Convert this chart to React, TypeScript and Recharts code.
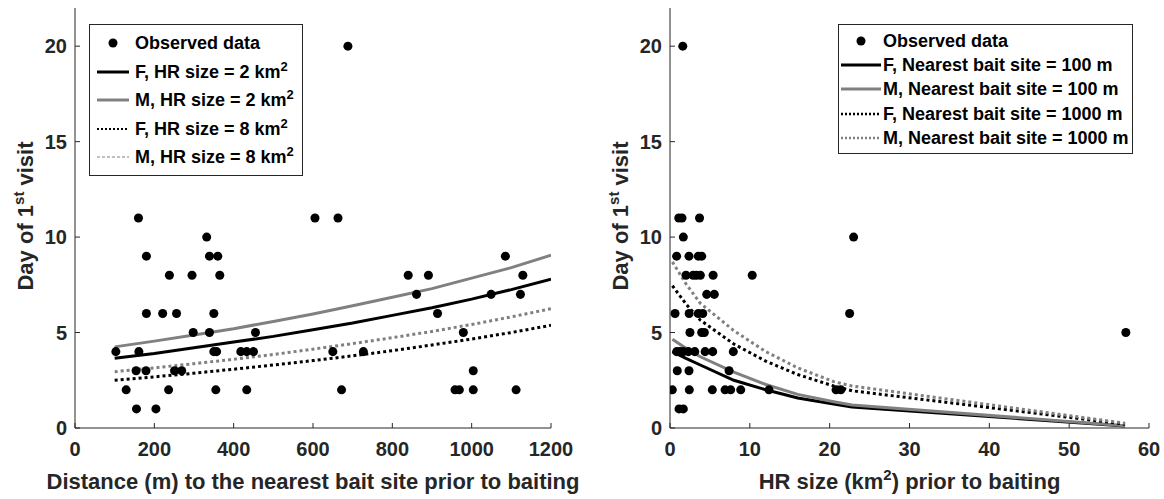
import React from 'react';
import { ComposedChart, Scatter, Line, XAxis, YAxis, Legend, Label } from 'recharts';

const FONT = '"Liberation Sans", Arial, Helvetica, sans-serif';
const INK = '#262626';
const GREY = '#808080';

// ---- left panel: distance to nearest bait site ----
const DIST_M = [
  688,
  160, 605, 663,
  332,
  180, 339, 360, 1085,
  238, 295, 365, 840, 891, 1129,
  861, 1049, 1123,
  180, 221, 256, 350, 914,
  298, 339, 455, 979,
  103, 161, 350, 357, 418, 433, 450, 650, 727,
  154, 179, 251, 269, 1004,
  129, 236, 355, 433, 672, 958, 969, 1004, 1112,
  155, 204,
];
const DIST_DAY = [
  20,
  11, 11, 11,
  10,
  9, 9, 9, 9,
  8, 8, 8, 8, 8, 8,
  7, 7, 7,
  6, 6, 6, 6, 6,
  5, 5, 5, 5,
  4, 4, 4, 4, 4, 4, 4, 4, 4,
  3, 3, 3, 3, 3,
  2, 2, 2, 2, 2, 2, 2, 2, 2,
  1, 1,
];
const DIST_GRID = [100, 200, 300, 400, 500, 600, 700, 800, 900, 1000, 1100, 1200];
const F_HR2 = [3.65, 3.9, 4.2, 4.5, 4.8, 5.15, 5.5, 5.9, 6.3, 6.75, 7.25, 7.8];
const M_HR2 = [4.25, 4.55, 4.87, 5.2, 5.58, 5.97, 6.4, 6.85, 7.3, 7.85, 8.4, 9.05];
const F_HR8 = [2.5, 2.68, 2.87, 3.08, 3.3, 3.53, 3.78, 4.05, 4.35, 4.66, 5.0, 5.38];
const M_HR8 = [2.95, 3.15, 3.37, 3.6, 3.85, 4.13, 4.42, 4.73, 5.06, 5.42, 5.82, 6.25];
const DIST_TICKS = [0, 200, 400, 600, 800, 1000, 1200];

// ---- right panel: home range size ----
const HR_KM2 = [
  1.6,
  1.1, 1.5, 3.7,
  1.67, 23,
  0.83, 2.38, 3.55, 3.97,
  2.0, 2.9, 3.3, 3.8, 5.4, 10.3,
  4.6, 5.55,
  0.63, 2.4, 3.55, 4.1, 22.5,
  2.5, 3.97, 4.3, 57.1,
  0.84, 1.25, 1.67, 2.3, 3.1, 4.4, 5.35, 7.93,
  0.91, 2.38, 7.4,
  0.29, 2.42, 5.3, 6.9, 7.6, 8.86, 12.4, 20.8, 21.4,
  1.13, 1.67,
];
const HR_DAY = [
  20,
  11, 11, 11,
  10, 10,
  9, 9, 9, 9,
  8, 8, 8, 8, 8, 8,
  7, 7,
  6, 6, 6, 6, 6,
  5, 5, 5, 5,
  4, 4, 4, 4, 4, 4, 4, 4,
  3, 3, 3,
  2, 2, 2, 2, 2, 2, 2, 2, 2,
  1, 1,
];
const HR_GRID = [0.3, 2, 3.8, 8, 12, 16, 20.5, 22.8, 57];
const F_100 = [4.0, 3.65, 3.3, 2.5, 2.0, 1.57, 1.26, 1.1, 0.1];
const M_100 = [4.65, 4.18, 3.73, 2.93, 2.28, 1.76, 1.38, 1.2, 0.12];
const F_1000 = [7.45, 6.5, 5.65, 4.4, 3.5, 2.8, 2.2, 1.95, 0.2];
const M_1000 = [8.7, 7.55, 6.53, 5.1, 4.0, 3.15, 2.43, 2.2, 0.25];
const HR_TICKS = [0, 10, 20, 30, 40, 50, 60];

const DAY_TICKS = [0, 5, 10, 15, 20];

const LEFT_LABELS = ['Observed data', 'F, HR size = 2 km', 'M, HR size = 2 km', 'F, HR size = 8 km', 'M, HR size = 8 km'];
const LEFT_SUPS = ['', '2', '2', '2', '2'];
const RIGHT_LABELS = [
  'Observed data',
  'F, Nearest bait site = 100 m',
  'M, Nearest bait site = 100 m',
  'F, Nearest bait site = 1000 m',
  'M, Nearest bait site = 1000 m',
];

const pts = (xs: number[], ys: number[]) => xs.map((x, i) => ({ x, y: ys[i] }));

// plot styles for the four curves: F solid, M solid, F dotted, M dotted
const CURVE_STYLE = [
  { stroke: '#000', dash: undefined },
  { stroke: GREY, dash: undefined },
  { stroke: '#000', dash: '3 3' },
  { stroke: GREY, dash: '3 3' },
];

type Sample = { dot?: boolean; stroke?: string; w?: number; dash?: string };

const LEFT_SAMPLES: Sample[] = [
  { dot: true },
  { stroke: '#000', w: 3 },
  { stroke: GREY, w: 3 },
  { stroke: '#000', w: 2, dash: '2 2' },
  { stroke: GREY, w: 1, dash: '3 2' },
];
const RIGHT_SAMPLES: Sample[] = [
  { dot: true },
  { stroke: '#000', w: 3 },
  { stroke: GREY, w: 3 },
  { stroke: '#000', w: 2.5, dash: '2 2' },
  { stroke: GREY, w: 2.5, dash: '2 2' },
];

function LegendBox({ labels, sups, samples, rowH, sampleW, lead, gap, width }: {
  labels: string[]; sups?: string[]; samples: Sample[]; rowH: number; sampleW: number; lead: number; gap: number; width: number;
}) {
  return (
    <div style={{ border: `1px solid ${INK}`, background: '#fff', width, boxSizing: 'border-box', padding: '4px 0 3px 0', fontFamily: FONT, fontWeight: 'bold', fontSize: 18, color: '#000' }}>
      {labels.map((t, i) => {
        const s = samples[i];
        return (
          <div key={t} style={{ height: rowH, display: 'flex', alignItems: 'center', whiteSpace: 'nowrap' }}>
            <svg width={sampleW} height={10} style={{ marginLeft: lead, marginRight: gap, flex: 'none' }}>
              {s.dot ? (
                <circle cx={sampleW / 2} cy={5} r={4.5} fill="#000" />
              ) : (
                <line x1={0} x2={sampleW} y1={5} y2={5} stroke={s.stroke} strokeWidth={s.w} strokeDasharray={s.dash} />
              )}
            </svg>
            <span style={{ lineHeight: '18px' }}>
              {t}
              {sups && sups[i] ? <sup style={{ fontSize: 13, lineHeight: 0, verticalAlign: 7 }}>{sups[i]}</sup> : null}
            </span>
          </div>
        );
      })}
    </div>
  );
}

const tickStyle = { fill: INK, fontSize: 20, fontWeight: 'bold', fontFamily: FONT };

function DayTitle({ x }: { x: number }) {
  return (
    <text x={x} y={216} transform={`rotate(-90, ${x}, 216)`} textAnchor="middle" fill={INK}
      style={{ fontFamily: FONT, fontWeight: 'bold', fontSize: 22 }}>
      Day of 1<tspan dy={-9} fontSize={15}>st</tspan><tspan dy={9}> visit</tspan>
    </text>
  );
}

function Panel({ pointsX, pointsY, grid, curves, xDomain, xTicks, left, plotLeft, plotRight, xTitle, legend }: {
  pointsX: number[]; pointsY: number[]; grid: number[]; curves: number[][]; xDomain: [number, number]; xTicks: number[];
  left: number; plotLeft: number; plotRight: number; xTitle: React.ReactNode; legend: React.ReactNode;
}) {
  const W = 582;
  const H = 499;
  return (
    <div style={{ position: 'absolute', left, top: 0, width: W, height: H }}>
      <ComposedChart width={W} height={H} margin={{ top: 8, right: W - plotRight, bottom: 41, left: plotLeft - 60 }}>
        <XAxis type="number" dataKey="x" domain={xDomain} ticks={xTicks} allowDataOverflow
          height={30} stroke={INK} tickSize={-5} tickMargin={19} tick={tickStyle}>
          <Label content={({ viewBox }: any) => (
            <text x={viewBox.x + viewBox.width / 2} y={489} textAnchor="middle" fill={INK}
              style={{ fontFamily: FONT, fontWeight: 'bold', fontSize: 22 }}>{xTitle}</text>
          )} />
        </XAxis>
        <YAxis type="number" dataKey="y" domain={[0, 22]} ticks={DAY_TICKS} allowDataOverflow
          width={60} stroke={INK} tickSize={-5} tickMargin={13} tick={tickStyle}>
          <Label content={({ viewBox }: any) => <DayTitle x={viewBox.x + viewBox.width - 42} />} />
        </YAxis>
        <Scatter data={pts(pointsX, pointsY)} fill="#000" isAnimationActive={false} />
        {curves.map((c, i) => (
          <Line key={i} data={pts(grid, c)} dataKey="y" type="linear" stroke={CURVE_STYLE[i].stroke}
            strokeWidth={3} strokeDasharray={CURVE_STYLE[i].dash} dot={false} activeDot={false}
            isAnimationActive={false} />
        ))}
        <Legend layout="vertical" align="center" verticalAlign="middle" content={() => legend}
          wrapperStyle={{ position: 'absolute', top: 24, left: 0, width: 'auto', height: 'auto' }} />
      </ComposedChart>
    </div>
  );
}

export default function App() {
  return (
    <div style={{ position: 'absolute', left: 0, top: 0, width: 1164, height: 499, background: '#fff' }}>
      <Panel
        left={0}
        plotLeft={75}
        plotRight={551}
        pointsX={DIST_M}
        pointsY={DIST_DAY}
        grid={DIST_GRID}
        curves={[F_HR2, M_HR2, F_HR8, M_HR8]}
        xDomain={[0, 1200]}
        xTicks={DIST_TICKS}
        xTitle="Distance (m) to the nearest bait site prior to baiting"
        legend={
          <div style={{ marginLeft: 89 }}>
            <LegendBox labels={LEFT_LABELS} sups={LEFT_SUPS} samples={LEFT_SAMPLES} rowH={28.5}
              sampleW={32} lead={7} gap={6} width={214} />
          </div>
        }
      />
      <Panel
        left={582}
        plotLeft={88}
        plotRight={567}
        pointsX={HR_KM2}
        pointsY={HR_DAY}
        grid={HR_GRID}
        curves={[F_100, M_100, F_1000, M_1000]}
        xDomain={[0, 60]}
        xTicks={HR_TICKS}
        xTitle={<>HR size (km<tspan dy={-9} fontSize={15}>2</tspan><tspan dy={9}>) prior to baiting</tspan></>}
        legend={
          <div style={{ marginLeft: 256 }}>
            <LegendBox labels={RIGHT_LABELS} samples={RIGHT_SAMPLES} rowH={24.2}
              sampleW={40} lead={2} gap={2} width={295} />
          </div>
        }
      />
    </div>
  );
}
